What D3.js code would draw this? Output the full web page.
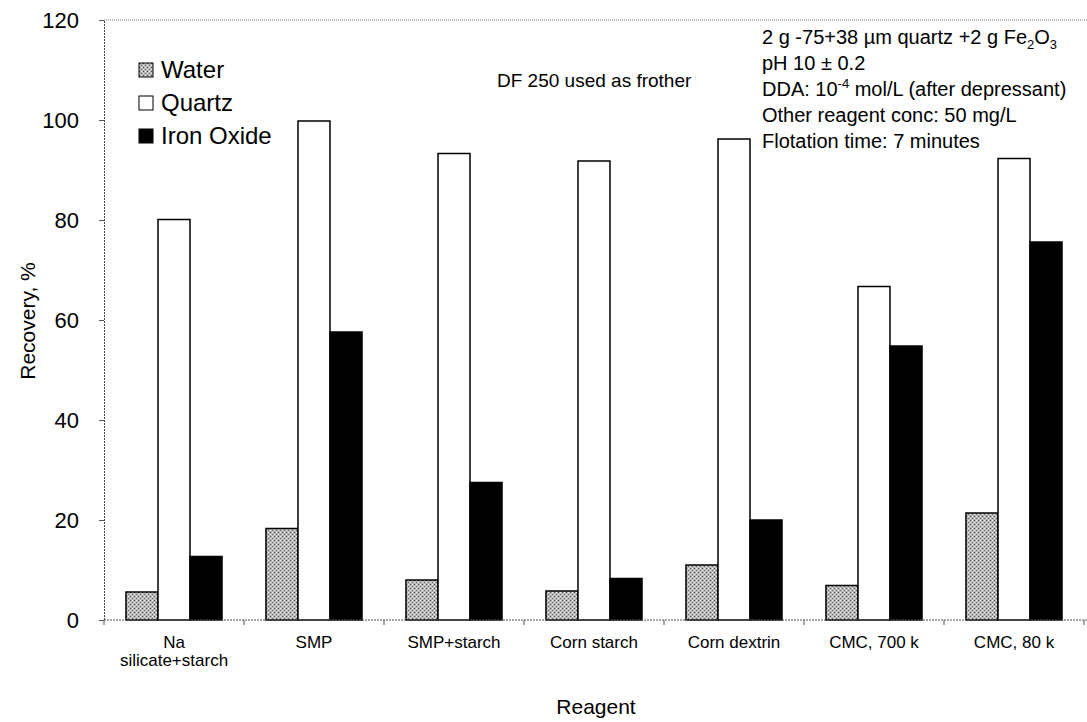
<!DOCTYPE html>
<html>
<head>
<meta charset="utf-8">
<script src="https://cdn.jsdelivr.net/npm/d3@7"></script>
<style>
  body { margin: 0; background: #fff; }
  svg text { font-family: "Liberation Sans", Arial, sans-serif; fill: #000; }
</style>
</head>
<body>
<div id="chart"></div>
<script>
// categories and series values
const reagents = ["Na|silicate+starch", "SMP", "SMP+starch", "Corn starch", "Corn dextrin", "CMC, 700 k", "CMC, 80 k"];
const series = ["Water", "Quartz", "Iron Oxide"];
const water = [5.6, 18.3, 8.0, 5.8, 11.0, 6.9, 21.4];
const quartz = [80.1, 99.8, 93.3, 91.8, 96.2, 66.7, 92.3];
const ironOxide = [12.7, 57.6, 27.5, 8.3, 20.0, 54.8, 75.6];
const yTicks = [0, 20, 40, 60, 80, 100, 120];
// "~x~" = subscript, "^x^" = superscript
const notes = [
  "2 g -75+38 \u00b5m quartz +2 g Fe~2~O~3~",
  "pH 10 \u00b1 0.2",
  "DDA: 10^-4^ mol/L (after depressant)",
  "Other reagent conc: 50 mg/L",
  "Flotation time: 7 minutes"
];

const width = 1087, height = 722;
const margin = { top: 20, right: 3, bottom: 102, left: 104 };
const w = width - margin.left - margin.right;
const h = height - margin.top - margin.bottom;

const svg = d3.select("#chart").append("svg")
  .attr("width", width)
  .attr("height", height);

// stipple pattern for the water bars
const defs = svg.append("defs");
const pat = defs.append("pattern")
  .attr("id", "stipple")
  .attr("width", 4).attr("height", 4)
  .attr("patternUnits", "userSpaceOnUse");
pat.append("rect").attr("width", 4).attr("height", 4).attr("fill", "#b8b8b8");
pat.append("rect").attr("x", 0).attr("y", 0).attr("width", 1).attr("height", 1).attr("fill", "#444");
pat.append("rect").attr("x", 2).attr("y", 2).attr("width", 1).attr("height", 1).attr("fill", "#666");
pat.append("rect").attr("x", 2).attr("y", 0).attr("width", 1).attr("height", 1).attr("fill", "#f2f2f2");
pat.append("rect").attr("x", 0).attr("y", 2).attr("width", 1).attr("height", 1).attr("fill", "#e6e6e6");

const fills = { "Water": "url(#stipple)", "Quartz": "#fff", "Iron Oxide": "#000" };

const g = svg.append("g")
  .attr("transform", `translate(${margin.left},${margin.top})`);

const x0 = d3.scaleBand()
  .domain(reagents)
  .range([0, w])
  .paddingInner(0.314)
  .paddingOuter(0.157);

const x1 = d3.scaleBand()
  .domain(series)
  .range([0, x0.bandwidth()]);

const y = d3.scaleLinear().domain([0, 120]).range([h, 0]);

const rows = reagents.map((r, i) => ({
  reagent: r,
  values: [
    { key: "Water", value: water[i] },
    { key: "Quartz", value: quartz[i] },
    { key: "Iron Oxide", value: ironOxide[i] }
  ]
}));

// dotted top edge of the plot
g.append("line")
  .attr("x1", 0).attr("x2", w + 3).attr("y1", 0).attr("y2", 0)
  .attr("stroke", "#777").attr("stroke-dasharray", "1,1");

// bars
g.selectAll(".grp")
  .data(rows)
  .enter().append("g")
  .attr("class", "grp")
  .attr("transform", d => `translate(${x0(d.reagent)},0)`)
  .selectAll("rect")
  .data(d => d.values)
  .enter().append("rect")
  .attr("x", d => x1(d.key))
  .attr("y", d => y(d.value))
  .attr("width", x1.bandwidth())
  .attr("height", d => h - y(d.value))
  .attr("fill", d => fills[d.key])
  .attr("stroke", "#000")
  .attr("stroke-width", 1.5);

// y axis
const yAxis = g.append("g")
  .call(d3.axisLeft(y).tickValues(yTicks).tickSize(5).tickPadding(20));
yAxis.select(".domain").attr("stroke", "#444").attr("stroke-dasharray", "2,1");
yAxis.selectAll(".tick line").attr("stroke", "#555");
yAxis.selectAll("text")
  .style("font-size", "22px");

// x axis: ticks at category boundaries
const xAxis = g.append("g").attr("transform", `translate(0,${h})`);
xAxis.append("line")
  .attr("x1", 0).attr("x2", w + 3)
  .attr("stroke", "#555").attr("stroke-dasharray", "2,1");
const bounds = reagents.map(r => x0(r) - x0.step() * x0.paddingInner() / 2).concat([w]);
xAxis.selectAll(".bt")
  .data(bounds)
  .enter().append("line")
  .attr("x1", d => d).attr("x2", d => d)
  .attr("y1", 0).attr("y2", 5)
  .attr("stroke", "#555");

const xl = xAxis.selectAll(".xl")
  .data(reagents)
  .enter().append("text")
  .attr("text-anchor", "middle")
  .attr("transform", d => `translate(${x0(d) + x0.bandwidth() / 2},28)`)
  .style("font-size", "17px");
xl.each(function (d) {
  const parts = d.split("|");
  d3.select(this).selectAll("tspan")
    .data(parts)
    .enter().append("tspan")
    .attr("x", 0)
    .attr("dy", (p, i) => i === 0 ? 0 : 18)
    .text(p => p);
});

// axis titles
svg.append("text")
  .attr("x", margin.left + w / 2 + 2)
  .attr("y", 714)
  .attr("text-anchor", "middle")
  .style("font-size", "21px")
  .text("Reagent");

svg.append("text")
  .attr("transform", `translate(35,${margin.top + h / 2 + 1}) rotate(-90)`)
  .attr("text-anchor", "middle")
  .style("font-size", "21px")
  .text("Recovery, %");

// legend
const legend = svg.append("g").attr("transform", "translate(139,63)");
const li = legend.selectAll(".li")
  .data(series)
  .enter().append("g")
  .attr("transform", (d, i) => `translate(0,${i * 33})`);
li.append("rect")
  .attr("width", 14).attr("height", 14)
  .attr("fill", d => fills[d])
  .attr("stroke", "#000")
  .attr("stroke-width", 1);
li.append("text")
  .attr("x", 22).attr("y", 15)
  .style("font-size", "24px")
  .text(d => d);

svg.append("text")
  .attr("x", 497).attr("y", 87)
  .style("font-size", "19px")
  .text("DF 250 used as frother");

// notes block
const nt = svg.append("g").attr("transform", "translate(762,0)");
notes.forEach((line, i) => {
  const t = nt.append("text")
    .attr("x", 0)
    .attr("y", 44 + i * 26)
    .style("font-size", "20px");
  let shift = 0;
  line.split(/(~[^~]+~|\^[^^]+\^)/g).filter(s => s.length).forEach(s => {
    let target = 0, size = null, txt = s;
    if (s[0] === "~") { target = 5; size = "13px"; txt = s.slice(1, -1); }
    else if (s[0] === "^") { target = -8; size = "13px"; txt = s.slice(1, -1); }
    const sp = t.append("tspan").attr("dy", target - shift).text(txt);
    if (size) sp.style("font-size", size);
    shift = target;
  });
});
</script>
</body>
</html>
